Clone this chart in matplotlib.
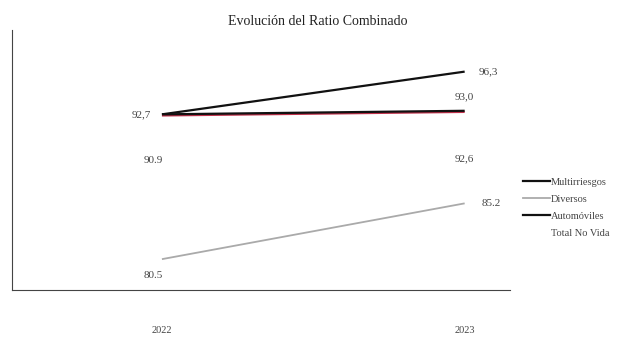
import matplotlib
matplotlib.use("Agg")
import matplotlib.pyplot as plt
import matplotlib.patheffects as pe
from matplotlib.lines import Line2D

years = ["2022", "2023"]
series = ["Multirriesgos", "Diversos", "Automóviles", "Total No Vida"]
multirriesgos = [92.7, 96.3]
diversos = [80.5, 85.2]
automoviles = [92.7, 93.0]
total_no_vida = [90.9, 92.6]

plt.rcParams['font.family'] = ['Liberation Serif', 'DejaVu Serif']

fig = plt.figure(figsize=(6.36, 3.38), dpi=100)
ax = fig.add_axes([0.019, 0.142, 0.783, 0.769])
x = [0, 1]
txtc = "#444444"

l1, = ax.plot(x, multirriesgos, color="#111111", lw=1.6, solid_capstyle="butt")
l2, = ax.plot(x, diversos, color="#aaaaaa", lw=1.3, solid_capstyle="butt")
l3, = ax.plot(x, automoviles, color="#111111", lw=1.6, solid_capstyle="butt",
              path_effects=[pe.SimpleLineShadow(offset=(0, -0.8), shadow_color="#c0304a", alpha=1.0),
                            pe.Normal()])
l4, = ax.plot(x, total_no_vida, color="white", lw=0.0)

fs = 8
ax.annotate(f"{multirriesgos[0]:.1f}".replace(".", ","), (0, multirriesgos[0]), xytext=(-8, 0),
            textcoords="offset points", ha="right", va="center", fontsize=fs, color=txtc)
ax.annotate(f"{multirriesgos[1]:.1f}".replace(".", ","), (1, multirriesgos[1]), xytext=(10, 0),
            textcoords="offset points", ha="left", va="center", fontsize=fs, color=txtc)
ax.annotate(f"{automoviles[1]:.1f}".replace(".", ","), (1, automoviles[1]), xytext=(0, 10),
            textcoords="offset points", ha="center", va="center", fontsize=fs, color=txtc)
ax.annotate(f"{total_no_vida[0]:.1f}", (0, total_no_vida[0]), xytext=(-6, -18),
            textcoords="offset points", ha="center", va="center", fontsize=fs, color=txtc)
ax.annotate(f"{total_no_vida[1]:.1f}".replace(".", ","), (1, total_no_vida[1]), xytext=(0, -31),
            textcoords="offset points", ha="center", va="center", fontsize=fs, color=txtc)
ax.annotate(f"{diversos[0]:.1f}", (0, diversos[0]), xytext=(-6, -12),
            textcoords="offset points", ha="center", va="center", fontsize=fs, color=txtc)
ax.annotate(f"{diversos[1]:.1f}", (1, diversos[1]), xytext=(12, 0),
            textcoords="offset points", ha="left", va="center", fontsize=fs, color=txtc)

ax.set_xlim(-0.495, 1.15)
ax.set_ylim(77.9, 99.8)
ax.set_xticks(x)
ax.set_xticklabels(years, fontsize=7.5, color=txtc)
ax.tick_params(axis="x", length=0, pad=26)
ax.set_yticks([])
for s in ["top", "right"]:
    ax.spines[s].set_visible(False)
for s in ["left", "bottom"]:
    ax.spines[s].set_color("#444444")
    ax.spines[s].set_linewidth(0.8)

fig.text(0.5, 0.935, "Evolución del Ratio Combinado", ha="center", va="center",
         fontsize=10, color="#222222")

handles = [Line2D([], [], color="#111111", lw=1.6),
           Line2D([], [], color="#aaaaaa", lw=1.3),
           Line2D([], [], color="#111111", lw=1.6),
           Line2D([], [], color="white", lw=1.6)]
fig.legend(handles, series, loc="upper left", bbox_to_anchor=(0.815, 0.488),
           frameon=False, fontsize=7.5, labelcolor=txtc, handlelength=2.6,
           handletextpad=0.1, labelspacing=0.75, borderaxespad=0)

fig.savefig("out.png", dpi=100)
